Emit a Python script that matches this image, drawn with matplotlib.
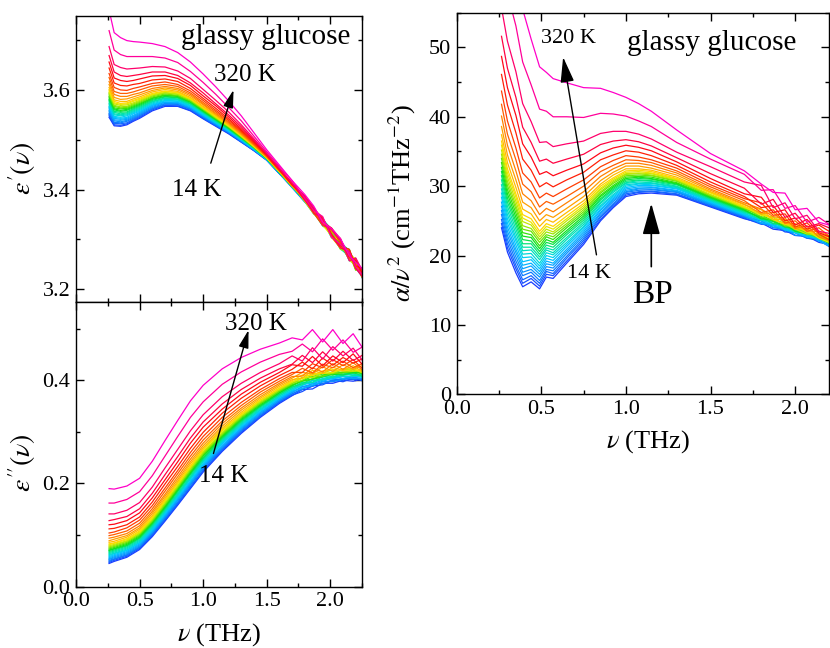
import numpy as np
import matplotlib
matplotlib.use("Agg")
import matplotlib.pyplot as plt
from matplotlib.colors import LinearSegmentedColormap
from matplotlib.ticker import MultipleLocator, FormatStrFormatter

plt.rcParams['font.family'] = ['Liberation Serif', 'DejaVu Serif']
plt.rcParams['mathtext.fontset'] = 'stix'

# ---------------- data ----------------
temperatures_K = [14, 20, 30, 40, 50, 60, 70, 80, 90, 100, 110, 120, 130, 140, 150, 160,
                  170, 180, 190, 200, 210, 220, 230, 240, 250, 260, 270, 280, 290, 300, 310, 320]

# eps'(nu): each row = values (x1e-3) of all 32 temperature curves at one frequency
nu_eps1 = [0.26, 0.30, 0.35, 0.40, 0.45, 0.50, 0.60, 0.70, 0.80, 0.90, 1.00, 1.10, 1.20,
           1.30, 1.40, 1.50, 1.60, 1.70, 1.80, 1.87, 1.94, 2.01, 2.08, 2.15, 2.20, 2.25]
eps1_cols = [
 [3545,3548,3551,3553,3556,3559,3562,3565,3567,3570,3573,3576,3579,3581,3584,3587,3590,3593,3595,3598,3601,3605,3611,3617,3625,3633,3644,3656,3669,3687,3719,3760],
 [3528,3530,3533,3535,3538,3540,3543,3545,3547,3550,3552,3555,3557,3560,3562,3564,3567,3569,3572,3574,3577,3580,3585,3591,3597,3605,3614,3624,3636,3651,3680,3715],
 [3527,3529,3532,3534,3536,3539,3541,3543,3545,3548,3550,3552,3555,3557,3559,3562,3564,3566,3569,3571,3573,3577,3581,3587,3593,3600,3609,3619,3629,3645,3671,3705],
 [3530,3532,3534,3537,3539,3541,3543,3545,3548,3550,3552,3554,3556,3559,3561,3563,3565,3567,3570,3572,3574,3577,3582,3587,3593,3599,3608,3617,3627,3642,3667,3699],
 [3537,3539,3541,3543,3545,3547,3549,3552,3554,3556,3558,3560,3562,3564,3566,3568,3570,3572,3574,3577,3579,3582,3586,3591,3596,3603,3611,3619,3629,3643,3667,3697],
 [3543,3545,3547,3549,3551,3553,3555,3557,3559,3561,3563,3565,3567,3569,3571,3573,3575,3577,3579,3581,3583,3586,3590,3594,3600,3606,3613,3622,3631,3644,3667,3696],
 [3558,3560,3562,3563,3565,3567,3569,3570,3572,3574,3576,3577,3579,3581,3583,3584,3586,3588,3590,3591,3593,3596,3599,3603,3608,3613,3620,3628,3636,3647,3667,3693],
 [3567,3569,3570,3572,3573,3575,3576,3578,3579,3581,3583,3584,3586,3587,3589,3590,3592,3594,3595,3597,3598,3601,3604,3607,3611,3616,3622,3629,3636,3646,3664,3687],
 [3567,3568,3570,3571,3573,3574,3575,3577,3578,3580,3581,3582,3584,3585,3587,3588,3589,3591,3592,3594,3595,3597,3600,3603,3607,3611,3617,3623,3629,3638,3655,3675],
 [3558,3559,3561,3562,3563,3564,3566,3567,3568,3569,3571,3572,3573,3575,3576,3577,3578,3580,3581,3582,3583,3585,3588,3591,3594,3598,3603,3609,3614,3623,3637,3656],
 [3542,3543,3544,3546,3547,3548,3549,3550,3551,3553,3554,3555,3556,3557,3558,3560,3561,3562,3563,3564,3565,3567,3570,3572,3575,3579,3583,3588,3594,3601,3615,3632],
 [3527,3528,3529,3530,3531,3532,3533,3534,3535,3536,3537,3538,3539,3540,3541,3542,3543,3544,3545,3546,3548,3549,3551,3553,3556,3559,3563,3568,3572,3579,3591,3606],
 [3512,3513,3514,3515,3515,3516,3517,3518,3519,3520,3521,3521,3522,3523,3524,3525,3526,3527,3527,3528,3529,3530,3532,3534,3536,3539,3542,3546,3550,3556,3565,3578],
 [3495,3496,3496,3497,3498,3498,3499,3500,3501,3501,3502,3503,3503,3504,3505,3505,3506,3507,3507,3508,3509,3510,3511,3513,3515,3517,3519,3522,3526,3530,3538,3548],
 [3478,3478,3479,3479,3480,3480,3481,3481,3482,3482,3483,3483,3484,3484,3485,3485,3485,3486,3486,3487,3487,3488,3489,3490,3491,3493,3495,3497,3499,3502,3507,3514],
 [3459,3459,3460,3460,3460,3460,3461,3461,3461,3461,3462,3462,3462,3463,3463,3463,3463,3464,3464,3464,3464,3465,3465,3466,3467,3468,3469,3470,3471,3473,3476,3480],
 [3432,3432,3432,3433,3433,3433,3433,3434,3434,3434,3434,3434,3435,3435,3435,3435,3436,3436,3436,3436,3436,3437,3437,3438,3438,3439,3440,3441,3442,3443,3446,3449],
 [3406,3404,3407,3406,3404,3407,3406,3406,3409,3405,3408,3407,3406,3409,3407,3406,3409,3407,3410,3408,3407,3410,3407,3411,3410,3409,3413,3410,3413,3413,3418,3418],
 [3380,3375,3379,3382,3376,3379,3382,3375,3380,3378,3382,3377,3379,3384,3377,3382,3379,3383,3376,3381,3382,3378,3385,3380,3378,3385,3380,3387,3379,3386,3382,3390],
 [3353,3362,3355,3360,3351,3359,3361,3354,3357,3363,3352,3358,3360,3353,3362,3356,3354,3361,3351,3359,3362,3354,3361,3356,3364,3353,3360,3363,3353,3363,3358,3367],
 [3340,3329,3337,3332,3342,3334,3330,3339,3327,3338,3341,3331,3336,3328,3340,3333,3343,3330,3337,3329,3339,3333,3343,3331,3339,3328,3343,3335,3342,3330,3346,3335],
 [3305,3316,3310,3321,3307,3313,3318,3303,3315,3308,3320,3311,3306,3317,3309,3322,3304,3314,3319,3307,3310,3319,3304,3317,3307,3321,3311,3323,3307,3320,3305,3322],
 [3296,3282,3293,3288,3300,3284,3291,3297,3286,3281,3295,3292,3283,3299,3287,3289,3296,3280,3294,3298,3285,3294,3283,3302,3285,3293,3287,3300,3283,3298,3290,3302],
 [3259,3273,3265,3279,3262,3270,3276,3257,3272,3266,3277,3261,3269,3263,3280,3260,3271,3274,3258,3270,3275,3265,3279,3260,3272,3263,3280,3266,3276,3257,3274,3267],
 [3258,3246,3260,3241,3253,3243,3255,3262,3244,3251,3240,3257,3247,3259,3242,3254,3238,3256,3248,3261,3245,3259,3244,3253,3240,3261,3247,3257,3242,3263,3245,3254],
 [3228,3240,3223,3236,3239,3225,3235,3230,3242,3227,3237,3224,3241,3231,3238,3226,3243,3229,3234,3225,3239,3231,3243,3224,3238,3228,3241,3233,3226,3239,3230,3242],
]

# eps''(nu): values x1e-3
nu_eps2 = [0.26, 0.30, 0.40, 0.50, 0.60, 0.70, 0.80, 0.90, 1.00, 1.15, 1.30, 1.45, 1.60,
           1.70, 1.78, 1.86, 1.94, 2.02, 2.10, 2.18, 2.25]
eps2_cols = [
 [45,47,49,51,53,54,56,58,60,62,64,66,68,70,71,73,75,77,79,81,83,86,89,94,99,104,112,120,128,141,162,190],
 [49,51,53,54,56,58,60,62,64,65,67,69,71,73,74,76,78,80,82,84,85,88,92,96,101,106,113,121,130,141,162,189],
 [57,59,61,62,64,66,68,70,71,73,75,77,79,80,82,84,86,88,89,91,93,96,99,103,108,114,120,128,136,148,169,195],
 [72,74,76,77,79,81,83,85,86,88,90,92,94,95,97,99,101,103,104,106,108,111,114,118,123,129,135,143,151,163,184,210],
 [97,99,101,103,105,106,108,110,112,114,116,118,120,122,124,125,127,129,131,133,135,138,142,146,151,157,164,172,181,193,215,243],
 [127,129,131,133,135,137,139,141,143,145,147,149,151,153,155,157,159,161,164,166,168,171,175,179,185,191,199,207,217,230,253,283],
 [158,160,162,164,167,169,171,173,175,177,179,181,184,186,188,190,192,194,196,199,201,204,208,213,219,225,233,242,252,266,291,322],
 [190,192,194,197,199,201,203,205,208,210,212,214,217,219,221,223,225,228,230,232,234,238,242,247,253,260,268,278,288,302,328,360],
 [222,224,226,229,231,233,235,237,239,242,244,246,248,250,253,255,257,259,261,264,266,269,273,278,284,291,299,309,319,333,358,390],
 [262,264,266,268,270,272,274,277,279,281,283,285,287,289,291,293,295,297,299,302,304,307,311,316,321,328,336,344,354,368,392,422],
 [297,299,301,303,305,307,308,310,312,314,316,318,320,322,324,326,328,330,331,333,335,338,342,346,351,357,365,373,382,394,416,444],
 [328,330,331,333,335,337,338,340,342,343,345,347,349,350,352,354,355,357,359,361,362,365,368,372,377,382,389,396,404,415,435,460],
 [355,357,358,360,361,363,364,366,367,369,370,372,373,375,376,378,379,381,382,384,385,388,391,394,398,403,409,415,422,432,450,472],
 [370,371,373,374,376,377,379,380,381,383,384,386,387,389,390,391,393,394,396,397,399,401,404,407,411,415,421,430,431,447,456,482],
 [382,378,384,382,388,387,384,391,390,395,391,396,393,399,399,398,405,400,405,403,410,404,415,408,423,415,435,427,448,437,470,478],
 [383,389,388,394,389,393,391,395,399,395,400,396,403,402,407,402,406,410,405,413,409,419,412,424,414,432,422,446,434,463,455,498],
 [394,391,397,393,398,400,397,403,401,403,401,407,407,406,412,409,408,414,414,413,418,413,426,416,431,424,443,428,455,441,480,474],
 [394,400,397,401,398,403,406,402,405,408,406,406,412,412,410,416,413,413,420,415,420,425,417,432,424,440,429,447,437,465,458,498],
 [400,397,403,402,401,407,403,408,410,407,410,414,411,410,416,415,414,421,418,422,418,419,430,421,437,428,444,434,456,447,478,471],
 [398,404,401,407,405,403,409,407,412,408,412,409,415,415,414,420,417,421,417,422,420,428,421,434,424,440,433,451,438,462,454,490],
 [402,399,403,400,407,404,408,407,405,411,407,411,408,414,414,412,418,415,419,415,420,417,428,420,432,423,441,431,448,439,464,464],
]

# alpha/nu^2 : values x0.1 cm^-1 THz^-2
nu_alpha = [0.265, 0.30, 0.35, 0.39, 0.44, 0.49, 0.53, 0.57, 0.65, 0.75, 0.85, 0.925, 1.00,
            1.075, 1.15, 1.30, 1.50, 1.70, 1.80, 1.87, 1.94, 2.00, 2.07, 2.14, 2.20]
alpha_cols = [
 [240,246,252,259,265,271,277,284,290,296,302,309,315,321,327,334,340,346,352,359,365,374,386,401,418,437,461,487,516,557,629,720],
 [205,211,217,223,229,235,241,247,253,259,265,271,277,283,289,295,301,307,313,319,325,334,345,359,375,394,417,442,470,509,578,665],
 [175,181,186,192,198,204,209,215,221,226,232,238,244,249,255,261,267,272,278,284,289,298,309,322,338,355,377,402,428,465,531,615],
 [155,160,165,171,176,181,186,191,197,202,207,212,217,223,228,233,238,243,249,254,259,267,277,289,303,319,339,361,385,419,479,555],
 [162,167,171,176,180,185,189,194,198,203,208,212,217,221,226,230,235,239,244,248,253,260,269,279,292,306,323,342,363,393,446,512],
 [152,156,160,164,169,173,177,181,185,189,194,198,202,206,210,214,219,223,227,231,235,242,250,259,270,283,299,317,336,363,411,472],
 [169,173,177,180,184,188,192,196,200,204,208,211,215,219,223,227,230,234,238,242,246,252,259,268,278,290,305,321,339,364,408,464],
 [167,171,174,178,182,186,189,193,197,201,204,208,212,216,219,223,227,231,234,238,242,248,255,263,274,285,299,315,333,357,400,455],
 [189,192,196,199,203,206,209,213,216,219,223,226,230,233,236,240,243,246,250,253,257,262,268,276,285,296,309,323,339,361,400,449],
 [216,219,222,225,228,231,234,237,240,242,245,248,251,254,257,260,263,266,269,272,275,279,285,292,300,309,320,332,346,365,399,442],
 [250,252,255,257,260,262,265,267,270,272,275,277,280,282,285,287,290,292,295,297,300,303,308,314,321,328,338,348,360,376,405,441],
 [269,271,273,275,278,280,282,284,286,288,291,293,295,297,299,301,304,306,308,310,312,316,320,325,330,337,345,355,365,379,404,435],
 [285,287,289,291,292,294,296,298,300,302,304,305,307,309,311,313,315,317,318,320,322,325,329,333,338,344,351,359,367,379,401,428],
 [289,291,292,294,296,297,299,301,303,304,306,308,309,311,313,314,316,318,319,321,323,325,329,333,337,342,349,356,364,375,394,419],
 [290,292,293,295,296,298,299,301,302,304,305,307,308,310,311,313,315,316,318,319,321,323,326,330,334,338,344,351,358,368,386,408],
 [287,288,289,291,292,293,294,296,297,298,299,300,302,303,304,305,307,308,309,310,311,313,316,319,322,326,330,335,341,349,363,381],
 [270,271,272,273,274,275,276,277,278,279,280,281,282,283,284,285,286,287,288,290,291,292,294,296,299,302,306,311,318,328,339,347],
 [253,254,255,256,257,258,258,259,260,261,262,263,264,265,266,267,268,269,269,270,271,273,274,276,279,282,285,289,297,306,317,322],
 [247,245,250,247,246,250,247,252,251,251,256,252,255,255,253,259,256,259,262,258,261,266,260,267,262,276,269,284,274,301,294,303],
 [238,244,240,244,243,241,245,243,249,246,246,250,246,250,252,249,251,255,252,255,252,252,262,256,266,258,272,262,281,269,295,291],
 [236,234,238,236,240,238,237,240,237,243,241,241,245,241,245,243,247,243,246,249,245,252,246,254,247,260,250,266,255,276,268,290],
 [229,233,229,233,229,235,233,233,236,233,238,235,237,239,235,239,238,242,238,240,243,238,246,239,250,241,254,244,261,253,272,266],
 [228,225,228,225,230,227,232,227,230,231,229,233,231,235,231,233,235,233,231,237,234,239,235,243,235,247,238,252,241,258,248,268],
 [219,222,221,225,221,223,221,226,224,227,225,224,227,226,230,226,229,226,231,225,231,228,235,227,240,231,244,233,246,235,255,248],
 [216,213,216,218,215,218,214,220,218,217,222,218,222,218,221,218,222,220,224,219,226,222,228,222,228,223,235,227,240,232,245,244],
]

# ---------------- checks / assembly ----------------
for name, cols, grid in [("eps1", eps1_cols, nu_eps1), ("eps2", eps2_cols, nu_eps2),
                         ("alpha", alpha_cols, nu_alpha)]:
    assert len(cols) == len(grid), (name, len(cols), len(grid))
    for k, c in enumerate(cols):
        assert len(c) == len(temperatures_K), (name, k, len(c))

eps1 = np.array(eps1_cols, dtype=float).T / 1000.0
eps2 = np.array(eps2_cols, dtype=float).T / 1000.0
alpha = np.array(alpha_cols, dtype=float).T / 10.0

cmap = LinearSegmentedColormap.from_list("rb", [
    (0.00, '#1a3cff'), (0.12, '#0a8cff'), (0.24, '#00ccff'), (0.36, '#00e6a0'),
    (0.46, '#10e010'), (0.56, '#a8e800'), (0.63, '#ffe600'), (0.71, '#ffa000'),
    (0.79, '#ff5000'), (0.86, '#ff0a0a'), (0.93, '#ff0060'), (1.00, '#ff00c8')])
colors = cmap(np.linspace(0, 1, len(temperatures_K)))

# ---------------- figure ----------------
fig = plt.figure(figsize=(8.3, 6.48), dpi=100)
ax1 = fig.add_axes([0.0916, 0.5344, 0.3446, 0.4414])
ax2 = fig.add_axes([0.0916, 0.0946, 0.3446, 0.4398])
ax3 = fig.add_axes([0.5502, 0.3915, 0.4486, 0.5889])

LW = 0.9
for i in range(len(temperatures_K)):
    ax1.plot(nu_eps1, eps1[i], color=colors[i], lw=LW)
    ax2.plot(nu_eps2, eps2[i], color=colors[i], lw=LW)
    ax3.plot(nu_alpha, alpha[i], color=colors[i], lw=LW)


def style(ax):
    ax.tick_params(which='both', direction='in', top=True, right=True,
                   labelsize=16, width=1.0, pad=4)
    ax.tick_params(which='major', length=5.5)
    ax.tick_params(which='minor', length=3)
    for s in ax.spines.values():
        s.set_linewidth(1.0)
    ax.xaxis.set_major_locator(MultipleLocator(0.5))
    ax.xaxis.set_minor_locator(MultipleLocator(0.25))
    ax.xaxis.set_major_formatter(FormatStrFormatter('%.1f'))


for ax in (ax1, ax2, ax3):
    style(ax)

ax1.set_xlim(0, 2.25)
ax1.set_ylim(3.175, 3.749)
ax1.yaxis.set_major_locator(MultipleLocator(0.2))
ax1.yaxis.set_minor_locator(MultipleLocator(0.1))
ax1.yaxis.set_major_formatter(FormatStrFormatter('%.1f'))
ax1.tick_params(labelbottom=False)

ax2.set_xlim(0, 2.25)
ax2.set_ylim(0, 0.552)
ax2.yaxis.set_major_locator(MultipleLocator(0.2))
ax2.yaxis.set_minor_locator(MultipleLocator(0.1))
ax2.yaxis.set_major_formatter(FormatStrFormatter('%.1f'))

ax3.set_xlim(0, 2.2)
ax3.set_ylim(0, 55)
ax3.yaxis.set_major_locator(MultipleLocator(10))
ax3.yaxis.set_minor_locator(MultipleLocator(5))
ax3.yaxis.set_major_formatter(FormatStrFormatter('%d'))

ax1.set_ylabel(r"$\varepsilon'(\nu)$", fontsize=20)
ax1.yaxis.set_label_coords(-0.133, 0.467)
ax2.set_ylabel(r"$\varepsilon''(\nu)$", fontsize=20)
ax2.yaxis.set_label_coords(-0.133, 0.435)
ax2.set_xlabel(r"$\nu$ (THz)", fontsize=19)
ax2.xaxis.set_label_coords(0.5, -0.12)
ax3.set_ylabel(r"$\alpha/\nu^2$ (cm$^{-1}$THz$^{-2}$)", fontsize=19)
ax3.yaxis.set_label_coords(-0.105, 0.5)
ax3.set_xlabel(r"$\nu$ (THz)", fontsize=19)
ax3.xaxis.set_label_coords(0.515, -0.088)

# annotations
ax1.text(1.49, 3.693, "glassy glucose", fontsize=21, ha='center', va='baseline')
ax1.text(1.33, 3.617, "320 K", fontsize=18, ha='center', va='baseline')
ax1.text(0.953, 3.387, "14 K", fontsize=18, ha='center', va='baseline')
ax1.annotate("", xy=(1.239, 3.600), xytext=(1.06, 3.453),
             arrowprops=dict(arrowstyle='-|>,head_length=0.9,head_width=0.25',
                             mutation_scale=12, lw=1.0, color='k',
                             shrinkA=0, shrinkB=0))

ax2.text(1.416, 0.498, "320 K", fontsize=18, ha='center', va='baseline')
ax2.text(1.16, 0.202, "14 K", fontsize=18, ha='center', va='baseline')
ax2.annotate("", xy=(1.357, 0.497), xytext=(1.081, 0.258),
             arrowprops=dict(arrowstyle='-|>,head_length=0.9,head_width=0.25',
                             mutation_scale=12, lw=1.0, color='k',
                             shrinkA=0, shrinkB=0))

ax3.text(1.509, 49.6, "glassy glucose", fontsize=21, ha='center', va='baseline')
ax3.text(0.663, 50.66, "320 K", fontsize=16, ha='center', va='baseline')
ax3.text(0.783, 16.7, "14 K", fontsize=16, ha='center', va='baseline')
ax3.annotate("", xy=(0.629, 48.6), xytext=(0.826, 20.1),
             arrowprops=dict(arrowstyle='-|>,head_length=1.3,head_width=0.35',
                             mutation_scale=12, lw=1.0, color='k',
                             shrinkA=0, shrinkB=0))
ax3.text(1.158, 13.1, "BP", fontsize=24, ha='center', va='baseline')
ax3.annotate("", xy=(1.15, 27.5), xytext=(1.15, 18.4),
             arrowprops=dict(arrowstyle='-|>,head_length=1.6,head_width=0.45',
                             mutation_scale=12, lw=1.2, color='k',
                             shrinkA=0, shrinkB=0))

fig.savefig("out.png", dpi=100)
